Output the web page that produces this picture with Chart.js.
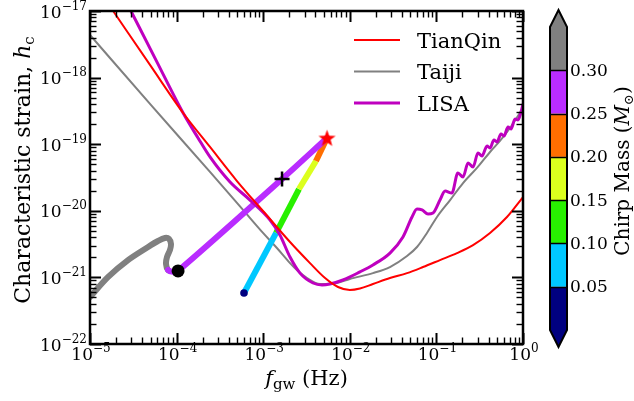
<!DOCTYPE html>
<html>
<head>
<meta charset="utf-8">
<script src="https://cdn.jsdelivr.net/npm/chart.js@4.4.1/dist/chart.umd.min.js"></script>
<style>
  html, body { margin: 0; padding: 0; background: #fff; }
</style>
</head>
<body>
<canvas id="chartGW" width="634" height="401"></canvas>
<script>
// Sensitivity curves (frequency in Hz, characteristic strain)
const tianqinF = [1.85e-5, 4.93e-5, 1.19e-4, 2.43e-4, 4.98e-4, 9.95e-4, 2.04e-3, 3.47e-3, 5.18e-3, 7.31e-3, 1.00e-2, 1.31e-2, 1.85e-2, 2.91e-2, 4.58e-2, 7.00e-2, 0.110, 0.173, 0.265, 0.416, 0.653, 1.0];
const tianqinH = [1.00e-17, 1.55e-18, 2.94e-19, 9.08e-20, 2.80e-20, 9.93e-21, 3.40e-21, 1.64e-21, 9.79e-22, 7.18e-22, 6.47e-22, 6.81e-22, 7.96e-22, 9.79e-22, 1.16e-21, 1.43e-21, 1.82e-21, 2.32e-21, 3.06e-21, 4.65e-21, 8.07e-21, 1.61e-20];

const taijiF = [1.00e-5, 4.93e-5, 2.43e-4, 5.85e-4, 9.95e-4, 1.44e-3, 2.04e-3, 2.45e-3, 3.21e-3, 4.53e-3, 7.11e-3, 1.00e-2, 1.85e-2, 2.91e-2, 4.58e-2, 5.97e-2, 7.78e-2, 0.1016, 0.144, 0.203, 0.294, 0.416, 0.542, 0.708, 1.0];
const taijiH = [4.36e-18, 4.02e-19, 3.83e-20, 1.03e-20, 4.65e-21, 2.76e-21, 1.64e-21, 1.29e-21, 9.79e-22, 7.96e-22, 8.24e-22, 9.46e-22, 1.16e-21, 1.43e-21, 2.09e-21, 2.86e-21, 4.65e-21, 8.07e-21, 1.45e-20, 2.61e-20, 4.40e-20, 7.64e-20, 1.12e-19, 1.75e-19, 3.50e-19];

const lisaF = [2.97e-5, 5.94e-5, 1.19e-4, 1.77e-4, 2.43e-4, 4.14e-4, 7.04e-4, 1.20e-3, 1.56e-3, 2.04e-3, 2.66e-3, 3.76e-3, 4.78e-3, 5.90e-3, 8.34e-3, 1.31e-2, 1.85e-2, 2.91e-2, 4.11e-2, 5.23e-2, 5.97e-2, 6.82e-2, 8.00e-2, 9.14e-2, 0.110, 0.126, 0.151, 0.177, 0.203, 0.232, 0.265, 0.302, 0.336, 0.384, 0.416, 0.462, 0.501, 0.557, 0.604, 0.671, 0.727, 0.809, 0.875, 0.948, 1.0];
const lisaH = [1.00e-17, 1.71e-18, 2.94e-19, 1.24e-19, 6.43e-20, 2.70e-20, 1.45e-20, 7.28e-21, 4.34e-21, 2.02e-21, 1.16e-21, 8.24e-22, 7.69e-22, 7.96e-22, 9.14e-22, 1.21e-21, 1.54e-21, 2.32e-21, 4.05e-21, 8.07e-21, 1.06e-20, 1.03e-20, 8.95e-21, 9.27e-21, 1.45e-20, 1.98e-20, 1.85e-20, 3.70e-20, 3.22e-20, 5.22e-20, 4.55e-20, 7.38e-20, 6.65e-20, 9.40e-20, 8.77e-20, 1.16e-19, 1.08e-19, 1.42e-19, 1.33e-19, 1.81e-19, 1.69e-19, 2.39e-19, 2.31e-19, 3.04e-19, 4.02e-19];

// Source tracks, with chirp mass (Msun) at each point
const trackAF = [1.00e-5, 1.61e-5, 2.75e-5, 4.68e-5, 6.09e-5, 7.34e-5, 8.17e-5, 8.61e-5, 8.39e-5, 7.74e-5, 7.55e-5, 7.96e-5, 9.08e-5, 1.04e-4, 1.65e-3, 5.46e-3];
const trackAH = [5.08e-22, 1.01e-21, 1.82e-21, 2.86e-21, 3.52e-21, 3.91e-21, 3.78e-21, 3.18e-21, 2.58e-21, 2.02e-21, 1.59e-21, 1.29e-21, 1.21e-21, 1.25e-21, 3.00e-20, 1.24e-19];
const trackAMass = [0.33, 0.33, 0.33, 0.33, 0.33, 0.33, 0.33, 0.33, 0.32, 0.32, 0.32, 0.31, 0.28, 0.28, 0.27, 0.27];

const trackBF = [6.00e-4, 1.41e-3, 2.59e-3, 4.07e-3, 5.46e-3];
const trackBH = [5.83e-22, 4.65e-21, 2.12e-20, 5.60e-20, 1.24e-19];
const trackBMass = [0.04, 0.08, 0.13, 0.18, 0.23];

// Markers: start of track A, start of track B, cross, star
const startF = [1.04e-4], startH = [1.25e-21];
const startBF = [6.00e-4], startBH = [5.83e-22];
const crossF = [1.65e-3], crossH = [3.00e-20];
const starF = [5.46e-3], starH = [1.24e-19];

// Colorbar bins
const massBounds = [0.00, 0.05, 0.10, 0.15, 0.20, 0.25, 0.30, 0.35];
const massColors = ['#000080', '#00c8ff', '#28f000', '#dcff1e', '#ff6e00', '#b92cff', '#808080'];
const massTicks = [0.05, 0.10, 0.15, 0.20, 0.25, 0.30];

const xDecades = [1e-5, 1e-4, 1e-3, 1e-2, 1e-1, 1];
const yDecades = [1e-22, 1e-21, 1e-20, 1e-19, 1e-18, 1e-17];

const SERIF = "'DejaVu Serif', serif";

function pts(fs, hs) { return fs.map((f, i) => ({ x: f, y: hs[i] })); }

function massColor(m) {
    for (let i = 0; i < massColors.length; i++) {
        if (m < massBounds[i + 1]) return massColors[i];
    }
    return massColors[massColors.length - 1];
}

function expOf(v) { return Math.round(Math.log10(v)); }
function expText(v) { const e = expOf(v); return e < 0 ? '\u2212' + (-e) : String(e); }

// filled star for the end point
const starImg = document.createElement('canvas');
starImg.width = 19; starImg.height = 19;
(function () {
    const c = starImg.getContext('2d');
    c.fillStyle = '#ff0000';
    c.beginPath();
    for (let i = 0; i < 10; i++) {
        const r = i % 2 === 0 ? 9 : 3.7;
        const a = -Math.PI / 2 + i * Math.PI / 5;
        const px = 9.5 + r * Math.cos(a), py = 10.2 + r * Math.sin(a);
        if (i === 0) c.moveTo(px, py); else c.lineTo(px, py);
    }
    c.closePath();
    c.fill();
})();

// draw a run of text pieces with different fonts / offsets
function drawRich(ctx, parts, x, y, align) {
    let total = 0;
    parts.forEach(p => { ctx.font = p.font; p.w = ctx.measureText(p.t).width; total += p.w; });
    let cx = align === 'right' ? x - total : x - total / 2;
    ctx.textAlign = 'left';
    parts.forEach(p => {
        ctx.font = p.font;
        ctx.fillText(p.t, cx, y + (p.dy || 0));
        cx += p.w;
    });
}

function powParts(v) {
    return [
        { t: '10', font: '17px ' + SERIF },
        { t: expText(v), font: '12px ' + SERIF, dy: -8 }
    ];
}

// inward ticks on all four sides, the frame and the decade labels
const frameTicks = {
    id: 'frameTicks',
    afterDatasetsDraw(chart) {
        const { ctx, chartArea: a, scales: { x, y } } = chart;
        ctx.save();
        ctx.strokeStyle = '#000';
        function seg(x1, y1, x2, y2, w) {
            ctx.lineWidth = w;
            ctx.beginPath(); ctx.moveTo(x1, y1); ctx.lineTo(x2, y2); ctx.stroke();
        }
        xDecades.forEach(d => {
            for (let k = 1; k < 10; k++) {
                const v = d * k;
                if (v > 1.0001) break;
                const px = Math.round(x.getPixelForValue(v)) + 0.5;
                const len = k === 1 ? 11 : 6.5, w = k === 1 ? 2 : 1.4;
                seg(px, a.bottom, px, a.bottom - len, w);
                seg(px, a.top, px, a.top + len, w);
            }
        });
        yDecades.forEach(d => {
            for (let k = 1; k < 10; k++) {
                const v = d * k;
                if (v > 1.0001e-17) break;
                const py = Math.round(y.getPixelForValue(v)) + 0.5;
                const len = k === 1 ? 11 : 6.5, w = k === 1 ? 2 : 1.4;
                seg(a.left, py, a.left + len, py, w);
                seg(a.right, py, a.right - len, py, w);
            }
        });
        ctx.lineWidth = 2.5;
        ctx.strokeRect(a.left, a.top, a.right - a.left, a.bottom - a.top);

        ctx.fillStyle = '#000';
        ctx.textBaseline = 'alphabetic';
        x.ticks.forEach(t => drawRich(ctx, powParts(t.value), x.getPixelForValue(t.value) + 1, a.bottom + 16));
        y.ticks.forEach(t => drawRich(ctx, powParts(t.value), a.left - 3, y.getPixelForValue(t.value) + 6.5, 'right'));
        ctx.restore();
    }
};

// axis titles, legend and colorbar
const extras = {
    id: 'extras',
    afterDraw(chart) {
        const { ctx, chartArea: a } = chart;
        ctx.save();
        ctx.fillStyle = '#000';
        ctx.textBaseline = 'alphabetic';

        // x title
        drawRich(ctx, [
            { t: 'f', font: 'italic 21px ' + SERIF },
            { t: 'gw', font: '15px ' + SERIF, dy: 4 },
            { t: ' (Hz)', font: '21px ' + SERIF }
        ], (a.left + a.right) / 2, 385);

        // y title
        ctx.save();
        ctx.translate(30, 170);
        ctx.rotate(-Math.PI / 2);
        drawRich(ctx, [
            { t: 'Characteristic strain, ', font: '22px ' + SERIF },
            { t: 'h', font: 'italic 22px ' + SERIF },
            { t: 'c', font: '15px ' + SERIF, dy: 4 }
        ], 0, 0);
        ctx.restore();

        // legend
        const items = chart.data.datasets.filter(ds => ds.inLegend);
        items.forEach((ds, i) => {
            const yy = 40 + i * 31.5;
            ctx.strokeStyle = ds.borderColor;
            ctx.lineWidth = ds.borderWidth;
            ctx.beginPath(); ctx.moveTo(354, yy); ctx.lineTo(400, yy); ctx.stroke();
            ctx.font = '21px ' + SERIF;
            ctx.textAlign = 'left';
            ctx.fillText(ds.label, 417, yy + 7.5);
        });

        // colorbar
        const bx = 550, bw = 17, yTop = 27, yBot = 330;
        const my = m => yBot - (m - massBounds[0]) / (massBounds[massBounds.length - 1] - massBounds[0]) * (yBot - yTop);
        massColors.forEach((c, i) => {
            ctx.fillStyle = c;
            ctx.fillRect(bx, my(massBounds[i + 1]), bw, my(massBounds[i]) - my(massBounds[i + 1]));
        });
        ctx.fillStyle = massColors[massColors.length - 1];
        ctx.beginPath(); ctx.moveTo(bx, yTop); ctx.lineTo(bx + bw / 2, 10); ctx.lineTo(bx + bw, yTop); ctx.closePath(); ctx.fill();
        ctx.fillStyle = massColors[0];
        ctx.beginPath(); ctx.moveTo(bx, yBot); ctx.lineTo(bx + bw / 2, 347); ctx.lineTo(bx + bw, yBot); ctx.closePath(); ctx.fill();
        ctx.strokeStyle = '#000';
        ctx.lineWidth = 1.5;
        massTicks.forEach(m => {
            const py = Math.round(my(m)) + 0.5;
            ctx.beginPath(); ctx.moveTo(bx, py); ctx.lineTo(bx + bw, py); ctx.stroke();
        });
        ctx.lineWidth = 2;
        ctx.beginPath();
        ctx.moveTo(bx, yTop); ctx.lineTo(bx + bw / 2, 10); ctx.lineTo(bx + bw, yTop);
        ctx.lineTo(bx + bw, yBot); ctx.lineTo(bx + bw / 2, 347); ctx.lineTo(bx, yBot);
        ctx.closePath(); ctx.stroke();
        ctx.fillStyle = '#000';
        ctx.font = '17px ' + SERIF;
        ctx.textAlign = 'left';
        ctx.textBaseline = 'middle';
        massTicks.forEach(m => ctx.fillText(m.toFixed(2), 570, my(m) + 1));

        ctx.textBaseline = 'alphabetic';
        ctx.save();
        ctx.translate(629, 171);
        ctx.rotate(-Math.PI / 2);
        drawRich(ctx, [
            { t: 'Chirp Mass (', font: '20px ' + SERIF },
            { t: 'M', font: 'italic 20px ' + SERIF },
            { t: '\u2299', font: '13px ' + SERIF, dy: 4 },
            { t: ')', font: '20px ' + SERIF }
        ], 0, 0);
        ctx.restore();

        ctx.restore();
    }
};

const curveBase = { pointRadius: 0, showLine: true, cubicInterpolationMode: 'monotone', fill: false };

new Chart(document.getElementById('chartGW'), {
    type: 'scatter',
    data: {
        datasets: [
            { label: 'star', data: pts(starF, starH), pointStyle: starImg, pointRadius: 9, order: 0 },
            { label: 'cross', data: pts(crossF, crossH), pointStyle: 'cross', pointRadius: 7.5, borderWidth: 2.5, borderColor: '#000', order: 0 },
            { label: 'startA', data: pts(startF, startH), pointRadius: 6.5, backgroundColor: '#000', borderWidth: 0, order: 0 },
            { label: 'startB', data: pts(startBF, startBH), pointRadius: 3.8, backgroundColor: massColor(trackBMass[0]), borderWidth: 0, order: 0 },
            Object.assign({}, curveBase, { label: 'TianQin', inLegend: true, data: pts(tianqinF, tianqinH), borderColor: '#ff0000', borderWidth: 2, order: 1 }),
            Object.assign({}, curveBase, { label: 'Taiji', inLegend: true, data: pts(taijiF, taijiH), borderColor: '#808080', borderWidth: 2, order: 3 }),
            Object.assign({}, curveBase, { label: 'LISA', inLegend: true, data: pts(lisaF, lisaH), borderColor: '#bf00bf', borderWidth: 3, order: 1 }),
            {
                label: 'trackA', data: pts(trackAF, trackAH), showLine: true, pointRadius: 0,
                borderWidth: 6, tension: 0.3, borderCapStyle: 'round', borderJoinStyle: 'round',
                borderColor: massColor(trackAMass[0]),
                segment: { borderColor: c => massColor(trackAMass[c.p1DataIndex]) }, order: 2
            },
            {
                label: 'trackB', data: pts(trackBF, trackBH), showLine: true, pointRadius: 0,
                borderWidth: 6, tension: 0, borderCapStyle: 'butt',
                borderColor: massColor(trackBMass[1]),
                segment: { borderColor: c => massColor(trackBMass[c.p1DataIndex]) }, order: 2
            }
        ]
    },
    options: {
        responsive: false,
        animation: false,
        devicePixelRatio: 1,
        layout: { padding: { left: 0, top: 11, right: 111, bottom: 0 } },
        plugins: { legend: { display: false }, tooltip: { enabled: false } },
        scales: {
            x: {
                type: 'logarithmic', min: 1e-5, max: 1,
                grid: { display: false, drawTicks: false }, border: { display: false },
                afterBuildTicks: s => { s.ticks = xDecades.map(v => ({ value: v })); },
                afterFit: s => { s.height = 57; },
                ticks: { display: false }
            },
            y: {
                type: 'logarithmic', min: 1e-22, max: 1e-17,
                grid: { display: false, drawTicks: false }, border: { display: false },
                afterBuildTicks: s => { s.ticks = yDecades.map(v => ({ value: v })); },
                afterFit: s => { s.width = 90; },
                ticks: { display: false }
            }
        }
    },
    plugins: [frameTicks, extras]
});
</script>
</body>
</html>
